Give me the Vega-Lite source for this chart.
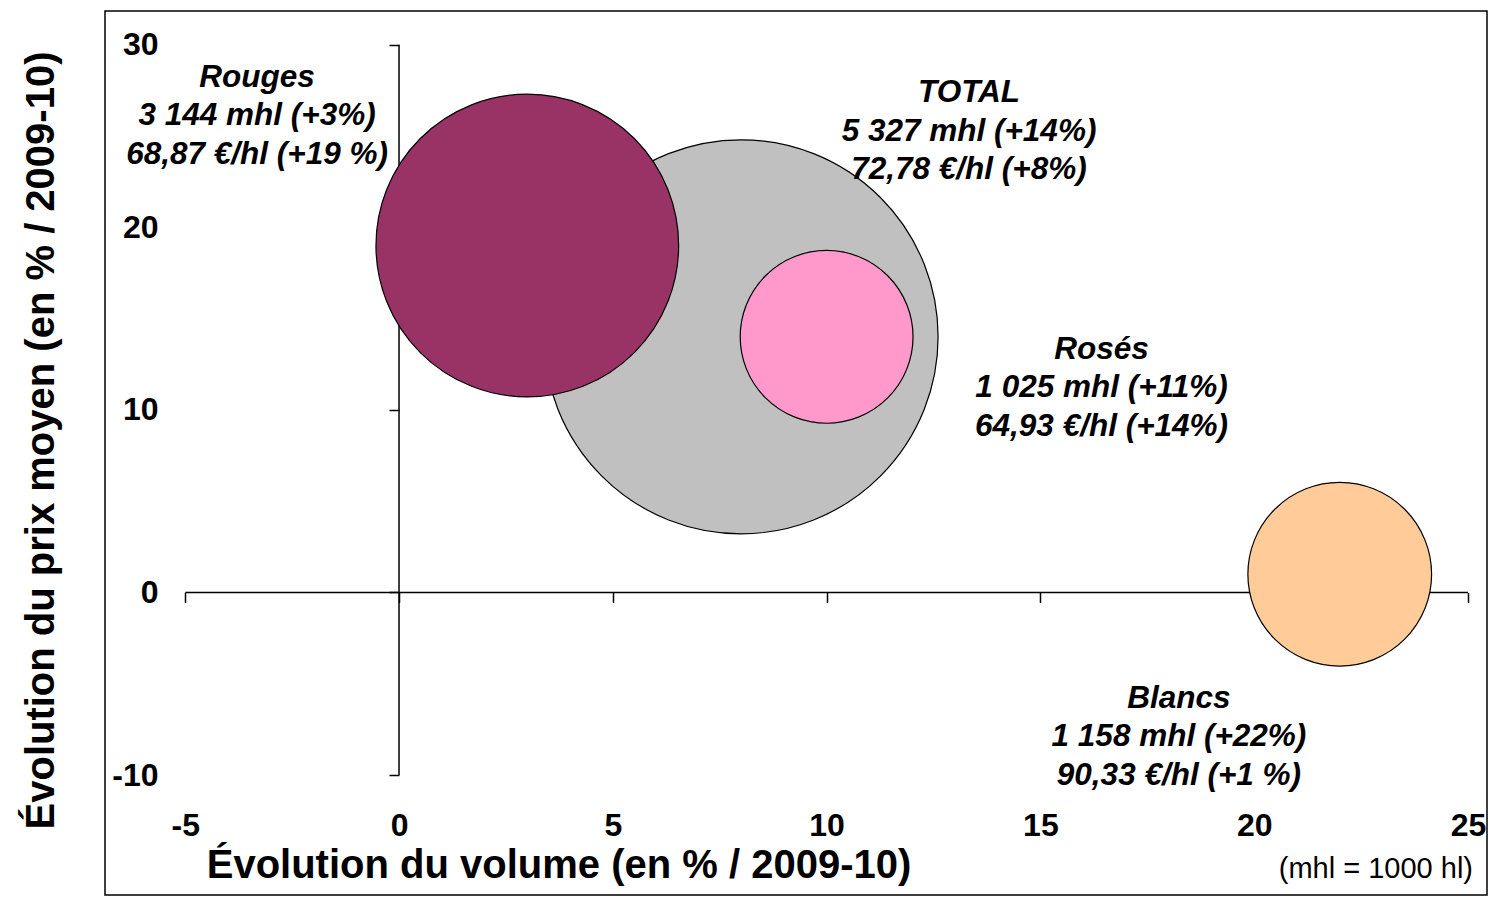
{
  "$schema": "https://vega.github.io/schema/vega-lite/v6.json",
  "width": 1382,
  "height": 884,
  "autosize": {"type": "none"},
  "padding": {"left": 105, "top": 11, "right": 5, "bottom": 2},
  "background": "white",
  "config": {
    "view": {"stroke": "black", "strokeWidth": 1.5},
    "font": "Liberation Sans",
    "axis": {"grid": false}
  },
  "datasets": {
    "vins": [
      {"categorie": "TOTAL", "volume_pct": 8, "prix_pct": 14, "volume_mhl": 5327},
      {"categorie": "Rouges", "volume_pct": 3, "prix_pct": 19, "volume_mhl": 3144},
      {"categorie": "Rosés", "volume_pct": 10, "prix_pct": 14, "volume_mhl": 1025},
      {"categorie": "Blancs", "volume_pct": 22, "prix_pct": 1, "volume_mhl": 1158}
    ],
    "etiquettes": [
      {"categorie": "Rouges", "texte": "Rouges\n3 144 mhl (+3%)\n68,87 €/hl (+19 %)", "lx": -3.32, "ly": 28.18},
      {"categorie": "TOTAL", "texte": "TOTAL\n5 327 mhl (+14%)\n 72,78 €/hl (+8%)", "lx": 13.33, "ly": 27.35},
      {"categorie": "Rosés", "texte": "Rosés\n1 025 mhl (+11%)\n64,93 €/hl (+14%)", "lx": 16.43, "ly": 13.28},
      {"categorie": "Blancs", "texte": "Blancs\n1 158 mhl (+22%)\n90,33 €/hl (+1 %)", "lx": 18.24, "ly": -5.83}
    ]
  },
  "layer": [
    {
      "data": {"values": [{}]},
      "mark": {"type": "rule", "color": "black", "strokeWidth": 1.5},
      "encoding": {
        "x": {"datum": -5, "type": "quantitative", "scale": {"domain": [-6.876, 25.444], "nice": false, "zero": false},
          "axis": {"orient": "bottom", "values": [-5, 0, 5, 10, 15, 20, 25], "domain": false, "labels": false, "ticks": true, "tickSize": 10, "tickWidth": 1.5, "tickColor": "black", "offset": -302.5, "title": null, "grid": false}},
        "x2": {"datum": 25},
        "y": {"datum": 0, "type": "quantitative", "scale": {"domain": [-16.572, 31.846], "nice": false, "zero": false}, "axis": null}
      }
    },
    {
      "data": {"values": [{}]},
      "mark": {"type": "rule", "color": "black", "strokeWidth": 1.5},
      "encoding": {
        "x": {"datum": 0, "type": "quantitative", "scale": {"domain": [-6.876, 25.444], "nice": false, "zero": false}, "axis": null},
        "y": {"datum": -10, "type": "quantitative", "scale": {"domain": [-16.572, 31.846], "nice": false, "zero": false},
          "axis": {"orient": "left", "values": [-10, 0, 10, 20, 30], "domain": false, "labels": false, "ticks": true, "tickSize": 10, "tickWidth": 1.5, "tickColor": "black", "offset": -294, "title": null, "grid": false}},
        "y2": {"datum": 30}
      }
    },
    {
      "data": {"name": "vins"},
      "mark": {"type": "circle", "opacity": 1, "stroke": "black", "strokeWidth": 1.2},
      "encoding": {
        "x": {"field": "volume_pct", "type": "quantitative", "scale": {"domain": [-6.876, 25.444], "nice": false, "zero": false},
          "axis": {"orient": "bottom", "values": [-5, 0, 5, 10, 15, 20, 25], "labelExpr": "'' + datum.value", "domain": false, "ticks": false, "tickSize": 0, "labelPadding": 0, "offset": -85,
            "labelFontSize": 32, "labelFontWeight": "bold", "labelColor": "black", "labelFont": "Liberation Sans", "labelFlush": false, "labelOverlap": false, "labelBound": false,
            "title": "Évolution du volume (en % / 2009-10)", "titleFontSize": 40, "titleFontWeight": "bold", "titleColor": "black", "titleFont": "Liberation Sans",
            "titleX": 453.5, "titleY": 67, "titleAlign": "center", "titleBaseline": "alphabetic"}},
        "y": {"field": "prix_pct", "type": "quantitative", "scale": {"domain": [-16.572, 31.846], "nice": false, "zero": false},
          "axis": {"orient": "left", "values": [-10, 0, 10, 20, 30], "labelExpr": "'' + datum.value", "domain": false, "ticks": false, "tickSize": 0, "labelPadding": 2, "offset": -55,
            "labelFontSize": 32, "labelFontWeight": "bold", "labelColor": "black", "labelFont": "Liberation Sans", "labelFlush": false, "labelOverlap": false, "labelBound": false,
            "title": "Évolution du prix moyen (en % / 2009-10)", "titleFontSize": 40, "titleFontWeight": "bold", "titleColor": "black", "titleFont": "Liberation Sans",
            "titleX": -107, "titleY": 429, "titleAngle": -90, "titleAlign": "center", "titleBaseline": "alphabetic"}},
        "size": {"field": "volume_mhl", "type": "quantitative", "scale": {"type": "linear", "domain": [0, 5327], "range": [0, 155236]}, "legend": null},
        "color": {"field": "categorie", "type": "nominal", "scale": {"domain": ["TOTAL", "Rouges", "Rosés", "Blancs"], "range": ["#C0C0C0", "#993366", "#FF99CC", "#FFCC99"]}, "legend": null}
      }
    },
    {
      "data": {"name": "etiquettes"},
      "mark": {"type": "text", "font": "Liberation Sans", "fontSize": 31.5, "fontWeight": "bold", "fontStyle": "italic", "lineHeight": 38.5, "lineBreak": "\n", "align": "center", "baseline": "middle", "color": "black"},
      "encoding": {
        "x": {"field": "lx", "type": "quantitative", "scale": {"domain": [-6.876, 25.444], "nice": false, "zero": false}, "axis": null},
        "y": {"field": "ly", "type": "quantitative", "scale": {"domain": [-16.572, 31.846], "nice": false, "zero": false}, "axis": null},
        "text": {"field": "texte"}
      }
    },
    {
      "data": {"values": [{"note": "(mhl = 1000 hl)"}]},
      "mark": {"type": "text", "font": "Liberation Sans", "fontSize": 29, "align": "right", "baseline": "alphabetic", "color": "black"},
      "encoding": {
        "x": {"datum": 25.117, "type": "quantitative", "scale": {"domain": [-6.876, 25.444], "nice": false, "zero": false}, "axis": null},
        "y": {"datum": -15.635, "type": "quantitative", "scale": {"domain": [-16.572, 31.846], "nice": false, "zero": false}, "axis": null},
        "text": {"field": "note"}
      }
    }
  ],
  "resolve": {"axis": {"x": "independent", "y": "independent"}}
}
